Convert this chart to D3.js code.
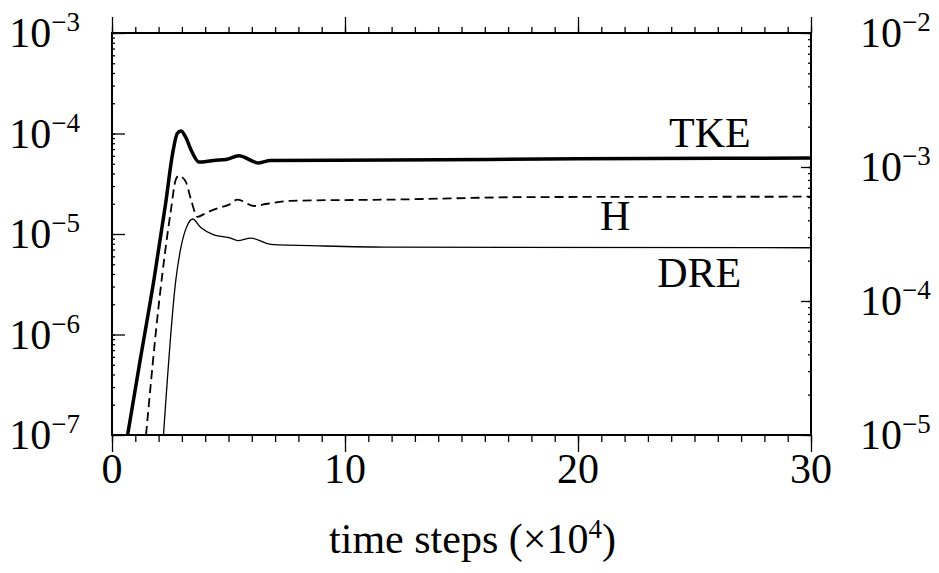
<!doctype html>
<html>
<head>
<meta charset="utf-8">
<script src="https://cdnjs.cloudflare.com/ajax/libs/d3/7.8.5/d3.min.js"></script>
<style>
  body { margin: 0; background: #fff; }
</style>
</head>
<body>
<div id="chart-area"></div>
<script>
// data (time steps in units of 1e4)
var tkeSteps = [0.67, 1.2, 1.8, 2.3, 2.6, 2.8, 2.96, 3.15, 3.4, 3.73, 4.37, 4.9, 5.44, 6.3, 6.8, 12, 20, 30];
var tkeValues = [1e-7, 5.4e-7, 3.5e-6, 2.0e-5, 6.3e-5, 1.0e-4, 1.06e-4, 9.3e-5, 6.8e-5, 5.2e-5, 5.4e-5, 5.5e-5, 6.0e-5, 5.1e-5, 5.4e-5, 5.45e-5, 5.6e-5, 5.7e-5];

var hSteps = [1.46, 2.03, 2.53, 2.74, 2.87, 3.17, 3.39, 3.67, 4.03, 4.53, 5.0, 5.39, 6.09, 6.67, 7.67, 12, 18, 30];
var hValues = [1e-7, 2.2e-6, 1.74e-5, 3.5e-5, 3.8e-5, 3.3e-5, 2.2e-5, 1.48e-5, 1.62e-5, 1.8e-5, 1.95e-5, 2.2e-5, 1.9e-5, 2.0e-5, 2.14e-5, 2.2e-5, 2.33e-5, 2.35e-5];

var dreSteps = [2.21, 2.74, 2.96, 3.24, 3.46, 3.8, 4.37, 5.1, 5.39, 5.96, 6.8, 9.1, 12, 30];
var dreValues = [1e-7, 3.5e-6, 7.4e-6, 1.23e-5, 1.41e-5, 1.17e-5, 9.8e-6, 9.1e-6, 8.6e-6, 9.1e-6, 7.9e-6, 7.6e-6, 7.4e-6, 7.3e-6];

var xTicks = [0, 10, 20, 30];
var leftExponents = [-3, -4, -5, -6, -7];
var rightExponents = [-2, -3, -4, -5];
var xTitle = "time steps (\u00d710";
var xTitleSup = "4";

var W = 939, H = 573;
var margin = { left: 112, right: 128, top: 33, bottom: 138 };
var width = W - margin.left - margin.right,
    height = H - margin.top - margin.bottom;
var serif = "'Liberation Serif', 'DejaVu Serif', 'Noto Serif', Tinos, 'Nimbus Roman', 'Nimbus Roman No9 L', FreeSerif, 'Times New Roman', Times, Georgia, serif";

var svg = d3.select("#chart-area").append("svg")
    .attr("width", W)
    .attr("height", H)
    .style("font-family", serif);

var g = svg.append("g")
    .attr("transform", "translate(" + margin.left + "," + margin.top + ")");

// Scales
var x = d3.scaleLinear().domain([0, 30]).range([0, width]);
var y = d3.scaleLog().domain([1e-7, 1e-3]).range([height, 0]);
var y2 = d3.scaleLog().domain([1e-5, 1e-2]).range([height, 0]);

var minorX = d3.range(0, 31);

// bottom axis (ticks outward)
g.append("g").attr("class", "axis")
    .attr("transform", "translate(0," + height + ")")
    .call(d3.axisBottom(x).tickValues(minorX).tickSize(7).tickFormat(""));
g.append("g").attr("class", "axis")
    .attr("transform", "translate(0," + height + ")")
    .call(d3.axisBottom(x).tickValues(xTicks).tickSize(17).tickFormat(""));

// top axis (ticks outward)
g.append("g").attr("class", "axis")
    .call(d3.axisTop(x).tickValues(minorX).tickSize(6).tickFormat(""));
g.append("g").attr("class", "axis")
    .call(d3.axisTop(x).tickValues(xTicks).tickSize(16).tickFormat(""));

// left axis (ticks inward)
g.append("g").attr("class", "axis")
    .call(d3.axisRight(y).tickValues(y.ticks()).tickSize(3).tickFormat(""));
g.append("g").attr("class", "axis")
    .call(d3.axisRight(y).tickValues(leftExponents.map(function(e) { return Math.pow(10, e); })).tickSize(13).tickFormat(""));

// right axis (ticks inward)
g.append("g").attr("class", "axis")
    .attr("transform", "translate(" + width + ",0)")
    .call(d3.axisLeft(y2).tickValues(y2.ticks()).tickSize(3).tickFormat(""));
g.append("g").attr("class", "axis")
    .attr("transform", "translate(" + width + ",0)")
    .call(d3.axisLeft(y2).tickValues(rightExponents.map(function(e) { return Math.pow(10, e); })).tickSize(10).tickFormat(""));

g.selectAll(".axis .domain").remove();
g.selectAll(".axis line").attr("stroke", "#000").attr("stroke-width", 1.3);

// frame
g.append("rect")
    .attr("width", width)
    .attr("height", height)
    .attr("fill", "none")
    .attr("stroke", "#000")
    .attr("stroke-width", 2);

// text helper
function addText(px, py, anchor) {
    return g.append("text")
        .attr("x", px)
        .attr("y", py)
        .attr("font-size", "42px")
        .attr("text-anchor", anchor)
        .style("font-family", serif)
        .attr("fill", "#000");
}

function powerLabel(sel, e) {
    sel.append("tspan").text("10");
    sel.append("tspan").attr("font-size", "27px").attr("dy", -16).text("\u2212" + Math.abs(e));
}

leftExponents.forEach(function(e) {
    powerLabel(addText(-32, y(Math.pow(10, e)) + 14, "end"), e);
});

rightExponents.forEach(function(e) {
    powerLabel(addText(width + 49, y2(Math.pow(10, e)) + 14, "start"), e);
});

xTicks.forEach(function(d) {
    addText(x(d), height + 48, "middle").text(d);
});

var xLabel = addText(width / 2 + 11, height + 118, "middle");
xLabel.append("tspan").text(xTitle);
xLabel.append("tspan").attr("font-size", "27px").attr("dy", -15).text(xTitleSup);
xLabel.append("tspan").attr("dy", 15).text(")");

// lines
g.append("clipPath").attr("id", "clip")
  .append("rect").attr("width", width).attr("height", height);

var line = d3.line()
    .x(function(d) { return x(d[0]); })
    .y(function(d) { return y(d[1]); })
    .curve(d3.curveMonotoneX);

function pairs(xs, vs) { return xs.map(function(d, i) { return [d, vs[i]]; }); }

var lines = g.append("g").attr("clip-path", "url(#clip)");

lines.append("path")
    .attr("d", line(pairs(dreSteps, dreValues)))
    .attr("fill", "none")
    .attr("stroke", "#000")
    .attr("stroke-width", 1.3);

lines.append("path")
    .attr("d", line(pairs(hSteps, hValues)))
    .attr("fill", "none")
    .attr("stroke", "#000")
    .attr("stroke-width", 1.8)
    .attr("stroke-dasharray", "9,5");

lines.append("path")
    .attr("d", line(pairs(tkeSteps, tkeValues)))
    .attr("fill", "none")
    .attr("stroke", "#000")
    .attr("stroke-width", 3.5);

// curve labels
var curveLabels = [
    { name: "TKE", x: 25.66, v: 7.3e-5 },
    { name: "H", x: 21.6, v: 1.1e-5 },
    { name: "DRE", x: 25.2, v: 2.97e-6 }
];
curveLabels.forEach(function(c) {
    addText(x(c.x), y(c.v), "middle").text(c.name);
});
</script>
</body>
</html>
